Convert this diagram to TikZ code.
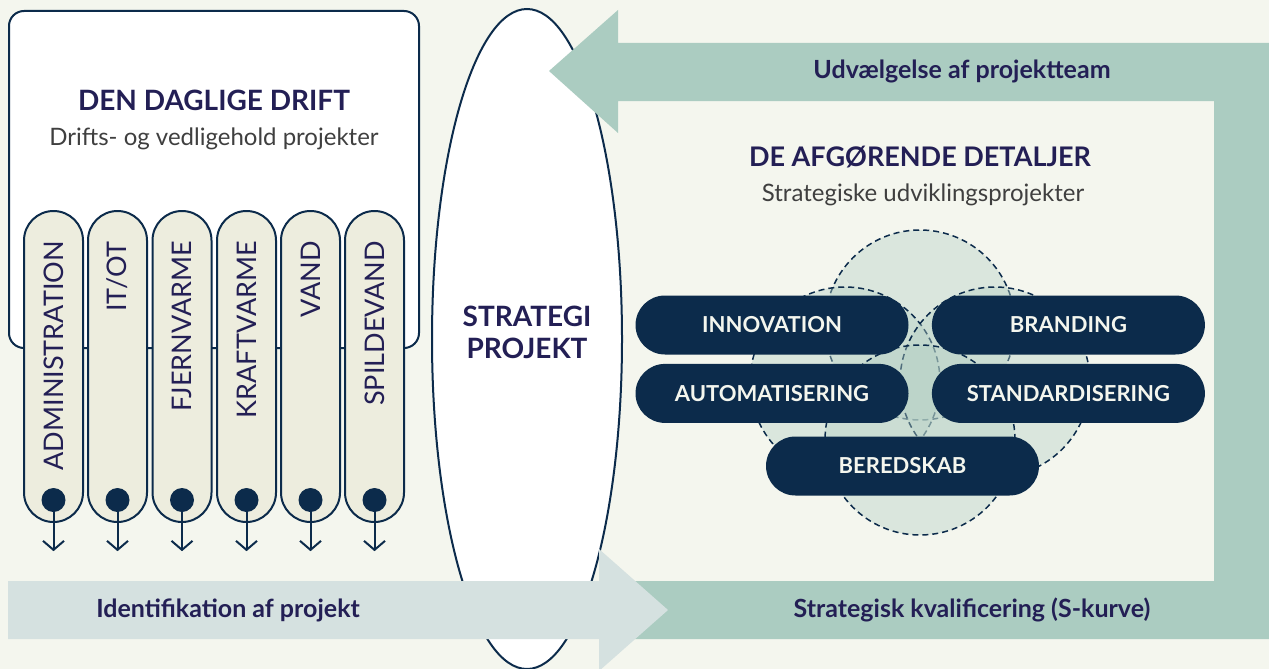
\documentclass[tikz,border=0pt]{standalone}
\usepackage{fontspec}
\setmainfont{Lato}
\usetikzlibrary{shapes.geometric, arrows.meta, positioning}
\definecolor{bgcream}{HTML}{F4F6EE}
\definecolor{navy}{HTML}{0C2B4B}
\definecolor{ink}{HTML}{231F55}
\definecolor{greyink}{HTML}{3F3F3F}
\definecolor{teal}{HTML}{ABCCC1}
\definecolor{mist}{HTML}{D5E1E0}
\definecolor{beige}{HTML}{EDEDDE}
\definecolor{venngreen}{HTML}{B5D0C5}
\tikzstyle{mainbox} = [rectangle, rounded corners=15pt, minimum width=410pt, minimum height=337pt, draw=navy, line width=2pt, fill=white]
\tikzstyle{pillar} = [rectangle, rounded corners=29.5pt, minimum width=59pt, minimum height=311pt, draw=navy, line width=2pt, fill=beige]
\tikzstyle{pillartext} = [rotate=90, anchor=east, inner sep=0pt, text=ink, font=\fontsize{27}{31}\selectfont]
\tikzstyle{dot} = [circle, fill=navy, minimum size=24pt, inner sep=0pt]
\tikzstyle{arrow} = [line width=2pt, draw=navy, -{Straight Barb[length=9pt, width=21pt]}]
\tikzstyle{pill} = [rectangle, rounded corners=29.5pt, minimum width=273pt, minimum height=59pt, fill=navy, text=bgcream, font=\bfseries\fontsize{22}{26}\selectfont]
\tikzstyle{venn} = [circle, minimum size=190pt, draw=navy, dash pattern=on 6pt off 4pt, line width=1.5pt, fill=venngreen, fill opacity=0.4]
\tikzstyle{title} = [text=ink, font=\bfseries\fontsize{28}{32}\selectfont]
\tikzstyle{subtitle} = [text=greyink, font=\fontsize{24}{28}\selectfont]
\tikzstyle{bandlabel} = [text=ink, font=\bfseries\fontsize{25}{29}\selectfont]

\begin{document}
\begin{tikzpicture}[x=1pt, y=-1pt, node distance=9pt]
\fill [bgcream] (0,0) rectangle (1269,669);
\clip (0,0) rectangle (1269,669);

% left: daily operation
\node (drift) [mainbox] at (214,179.5) {};
\node (drifttitle) [title] at (214,100) {DEN DAGLIGE DRIFT};
\node (driftsub) [subtitle] at (214,139) {Drifts- og vedligehold projekter};

\node (p1) [pillar] at (53.5,366.5) {};
\node (p2) [pillar] at (117.5,366.5) {};
\node (p3) [pillar] at (182,366.5) {};
\node (p4) [pillar] at (246.5,366.5) {};
\node (p5) [pillar] at (310.5,366.5) {};
\node (p6) [pillar] at (374.5,366.5) {};

\node (t1) [pillartext] at (53.5,241) {ADMINISTRATION};
\node (t2) [pillartext] at (117.5,241) {IT/OT};
\node (t3) [pillartext] at (182,241) {FJERNVARME};
\node (t4) [pillartext] at (246.5,241) {KRAFTVARME};
\node (t5) [pillartext] at (310.5,241) {VAND};
\node (t6) [pillartext] at (374.5,241) {SPILDEVAND};

\node (d1) [dot] at (53.5,500) {};
\node (d2) [dot] at (117.5,500) {};
\node (d3) [dot] at (182,500) {};
\node (d4) [dot] at (246.5,500) {};
\node (d5) [dot] at (310.5,500) {};
\node (d6) [dot] at (374.5,500) {};

\coordinate [below=39pt of d1] (e1);
\coordinate [below=39pt of d2] (e2);
\coordinate [below=39pt of d3] (e3);
\coordinate [below=39pt of d4] (e4);
\coordinate [below=39pt of d5] (e5);
\coordinate [below=39pt of d6] (e6);

\draw [arrow] (d1.center) -- (e1);
\draw [arrow] (d2.center) -- (e2);
\draw [arrow] (d3.center) -- (e3);
\draw [arrow] (d4.center) -- (e4);
\draw [arrow] (d5.center) -- (e5);
\draw [arrow] (d6.center) -- (e6);

% middle
\node (strat) [ellipse, minimum width=190pt, minimum height=660pt, draw=navy, line width=2pt, fill=white] at (527,339) {};
\node (strattext) [text=ink, align=center, font=\bfseries\fontsize{28}{32}\selectfont] at (527,332) {STRATEGI\\PROJEKT};

% bands
\fill [teal] (600,581) -- (1214,581) -- (1214,101) -- (618,101) -- (618,133) -- (549,71)
  -- (618,10) -- (618,43) -- (1269,43) -- (1269,639) -- (600,639) -- cycle;
\fill [mist] (8,581) -- (599,581) -- (599,549) -- (668,610) -- (599,671) -- (599,639) -- (8,639) -- cycle;

\node (teamlabel) [bandlabel] at (962,71) {Udvælgelse af projektteam};
\node (identlabel) [bandlabel] at (228,610) {Identifikation af projekt};
\node (kvallabel) [bandlabel] at (972,610) {Strategisk kvalificering (S-kurve)};

% right: decisive details
\node (dettitle) [title, font=\bfseries\fontsize{27}{31}\selectfont] at (920,157) {DE AFGØRENDE DETALJER};
\node (detsub) [subtitle] at (923,195) {Strategiske udviklingsprojekter};

\node (vtop) [venn] at (920,325) {};
\node (vleft) [venn] at (845,382) {};
\node (vright) [venn] at (995,382) {};
\node (vbottom) [venn] at (920,440) {};

\node (innov) [pill] at (772,325) {INNOVATION};
\node (brand) [pill, right=23pt of innov] {BRANDING};
\node (auto) [pill, below=of innov] {AUTOMATISERING};
\node (stand) [pill, below=of brand] {STANDARDISERING};
\node (bered) [pill] at (902.5,466) {BEREDSKAB};
\end{tikzpicture}
\end{document}
